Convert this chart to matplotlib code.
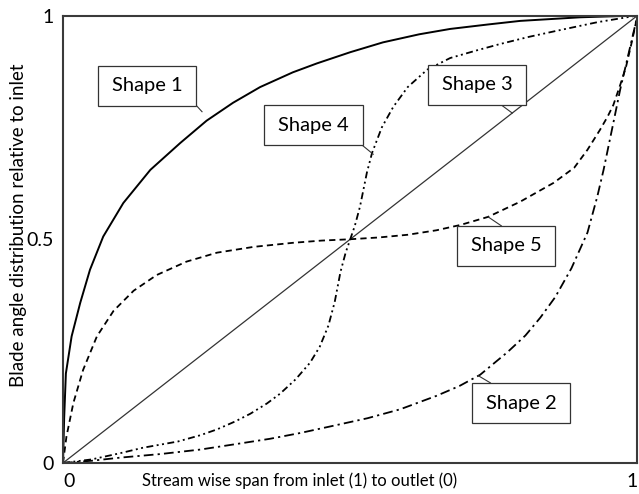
import numpy as np
import matplotlib
matplotlib.use("Agg")
import matplotlib.pyplot as plt
from matplotlib.patches import Rectangle

plt.rcParams['font.family'] = ['Lato', 'DejaVu Sans']
plt.rcParams['lines.scale_dashes'] = False

# blade angle distributions, normalised span (x) vs normalised angle (y)
x1 = [0, 0.002, 0.005, 0.015, 0.030, 0.047, 0.070, 0.105, 0.152, 0.204, 0.25, 0.296,
      0.343, 0.40, 0.442, 0.5, 0.557, 0.62, 0.674, 0.74, 0.796, 0.9, 1]
y1 = [0, 0.10, 0.20, 0.283, 0.358, 0.432, 0.506, 0.581, 0.655, 0.715, 0.765, 0.805,
      0.84, 0.873, 0.893, 0.918, 0.94, 0.958, 0.97, 0.98, 0.988, 0.996, 1]

x2 = [0, 0.05, 0.1, 0.17, 0.239, 0.3, 0.36, 0.413, 0.47, 0.53, 0.587, 0.65, 0.69, 0.726,
      0.774, 0.805, 0.831, 0.857, 0.885, 0.913, 0.93, 0.941, 0.958, 0.97, 0.98, 0.99, 1]
y2 = [0, 0.005, 0.012, 0.02, 0.030, 0.042, 0.054, 0.067, 0.083, 0.10, 0.12, 0.15, 0.172, 0.197,
      0.248, 0.285, 0.325, 0.371, 0.435, 0.515, 0.595, 0.655, 0.76, 0.835, 0.89, 0.945, 1]

x3 = [0, 1]
y3 = [0, 1]

x4 = [0, 0.05, 0.1, 0.139, 0.2, 0.239, 0.268, 0.3, 0.326, 0.355, 0.378, 0.405, 0.43, 0.447,
      0.462, 0.473, 0.483, 0.492, 0.5, 0.508, 0.517, 0.529, 0.538, 0.555, 0.575, 0.6, 0.634,
      0.674, 0.72, 0.76, 0.81, 0.86, 0.93, 1]
y4 = [0, 0.008, 0.022, 0.034, 0.048, 0.062, 0.075, 0.093, 0.11, 0.133, 0.155, 0.187, 0.224, 0.26,
      0.307, 0.36, 0.427, 0.47, 0.5, 0.53, 0.573, 0.649, 0.693, 0.75, 0.796, 0.84, 0.879,
      0.905, 0.922, 0.936, 0.952, 0.966, 0.985, 1]

x5 = [0, 0.006, 0.018, 0.035, 0.059, 0.088, 0.123, 0.163, 0.215, 0.268, 0.332, 0.4, 0.45,
      0.5, 0.55, 0.6, 0.65, 0.692, 0.74, 0.796, 0.854, 0.89, 0.913, 0.935, 0.948, 0.958,
      0.97, 0.98, 0.99, 1]
y5 = [0, 0.059, 0.134, 0.208, 0.283, 0.34, 0.385, 0.42, 0.45, 0.47, 0.483, 0.492, 0.497,
      0.5, 0.504, 0.51, 0.52, 0.532, 0.55, 0.584, 0.626, 0.66, 0.70, 0.745, 0.774, 0.80,
      0.845, 0.885, 0.94, 1]

# label text, box centre, and point on the curve the leader goes to
labels = ['Shape 1', 'Shape 2', 'Shape 3', 'Shape 4', 'Shape 5']
box_xy = [(0.146, 0.843), (0.798, 0.134), (0.721, 0.845), (0.436, 0.755), (0.771, 0.485)]
leader_from = [(0.232, 0.799), (0.744, 0.179), (0.762, 0.801), (0.521, 0.710), (0.763, 0.530)]
leader_to = [(0.242, 0.785), (0.723, 0.195), (0.782, 0.782), (0.540, 0.690), (0.740, 0.550)]

fig = plt.figure(figsize=(6.39, 4.94), dpi=100)
ax = fig.add_axes([0.0986, 0.0628, 0.899, 0.9058])

ax.plot(x1, y1, color='black', lw=1.4)
ax.plot(x2, y2, color='black', lw=1.3, linestyle=(0, (7, 3, 1.6, 3)))
ax.plot(x3, y3, color='#333333', lw=0.9)
ax.plot(x4, y4, color='black', lw=1.3, linestyle=(0, (5, 2.5, 1.4, 2.5, 1.4, 2.5)))
ax.plot(x5, y5, color='black', lw=1.3, linestyle=(0, (4.5, 3)))

bw, bh = 98 / 574, 40 / 447
for lab, (cx, cy), p0, p1 in zip(labels, box_xy, leader_from, leader_to):
    ax.plot([p0[0], p1[0]], [p0[1], p1[1]], color='#333333', lw=0.8, zorder=4)
    ax.add_patch(Rectangle((cx - bw / 2, cy - bh / 2), bw, bh, facecolor='white',
                           edgecolor='#333333', lw=0.9, zorder=5))
    ax.text(cx, cy, lab, ha='center', va='center', fontsize=14.5, zorder=6)

ax.set_xlim(0, 1)
ax.set_ylim(0, 1)
ax.set_xticks([0, 1])
ax.set_xticklabels(['0', '1'], fontsize=14)
ax.get_xticklabels()[0].set_ha('left')
ax.get_xticklabels()[1].set_ha('right')
ax.set_yticks([0, 0.5, 1])
ax.set_yticklabels(['0', '0.5', '1'], fontsize=14)
ax.tick_params(length=0, pad=7)

for s in ax.spines.values():
    s.set_color('#3a3a3a')
    s.set_linewidth(1.5)

ax.set_xlabel('Stream wise span from inlet (1) to outlet (0)', fontsize=12)
ax.xaxis.set_label_coords(0.411, -0.022)
ax.set_ylabel('Blade angle distribution relative to inlet', fontsize=13.5)
ax.yaxis.set_label_coords(-0.063, 0.532)

fig.savefig('out.png', dpi=100)
